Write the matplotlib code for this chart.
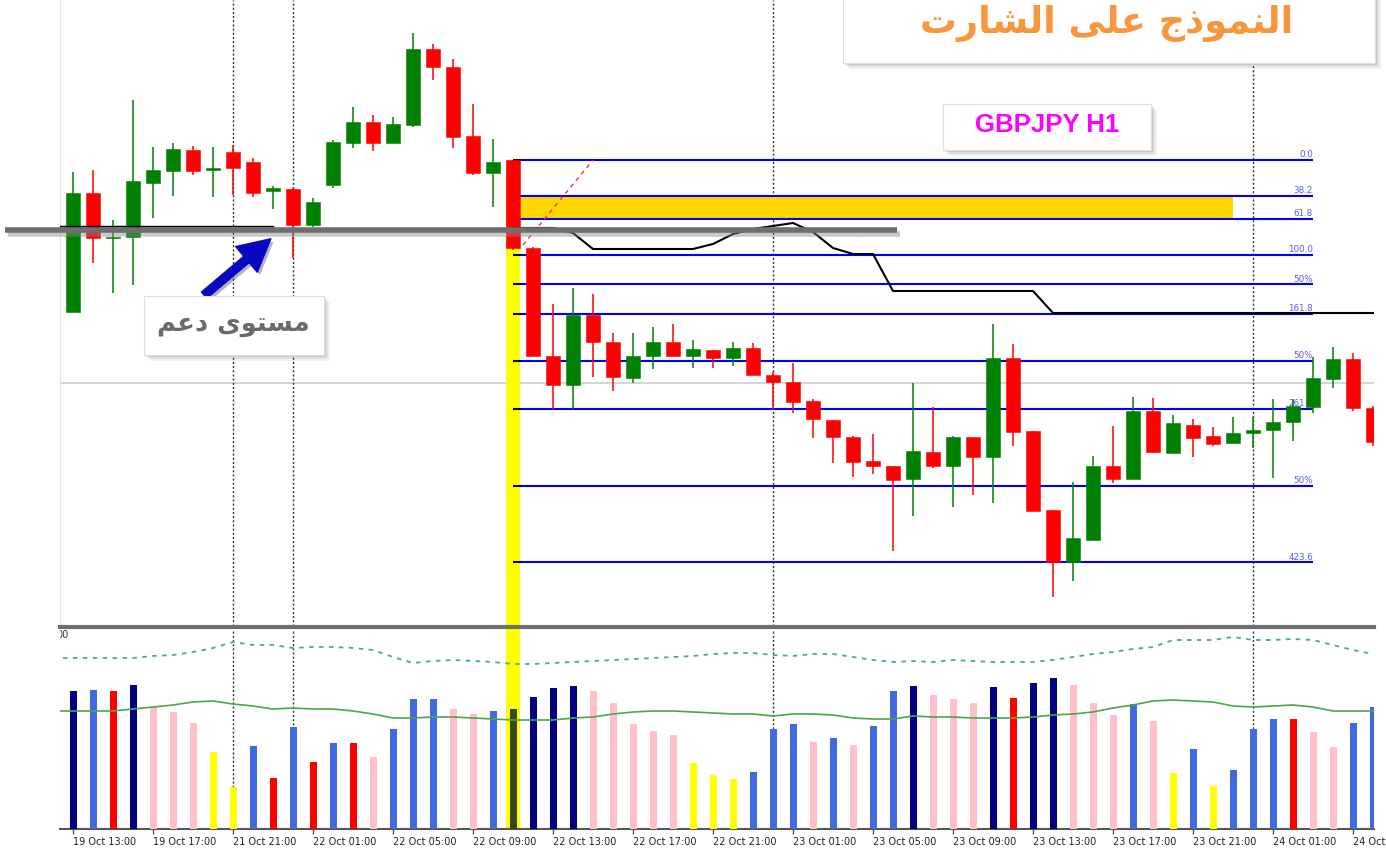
import matplotlib
matplotlib.use("Agg")
import matplotlib.pyplot as plt
import matplotlib.patheffects as pe
from matplotlib.patches import Rectangle
from matplotlib.lines import Line2D
import numpy as np

# ---- candles (H1) ----
opens = [146.940, 147.535, 147.310, 147.315, 147.585, 147.645, 147.750, 147.650, 147.740, 147.690,
         147.545, 147.555, 147.375, 147.575, 147.785, 147.890, 147.785, 147.875, 148.255, 148.165,
         147.820, 147.635, 147.700, 147.260, 146.720, 146.575, 146.925, 146.790, 146.610, 146.720,
         146.790, 146.720, 146.750, 146.710, 146.760, 146.625, 146.590, 146.495, 146.400, 146.315,
         146.195, 146.170, 146.105, 146.240, 146.170, 146.315, 146.215, 146.710, 146.345, 145.950,
         145.690, 145.800, 146.170, 146.105, 146.445, 146.235, 146.375, 146.320, 146.285, 146.335,
         146.350, 146.390, 146.465, 146.605, 146.705, 146.460]
highs = [147.640, 147.650, 147.400, 148.000, 147.765, 147.785, 147.770, 147.765, 147.775, 147.710,
         147.570, 147.560, 147.510, 147.800, 147.965, 147.925, 147.915, 148.335, 148.280, 148.205,
         147.980, 147.805, 147.700, 147.265, 146.980, 147.060, 147.030, 146.835, 146.835, 146.865,
         146.880, 146.800, 146.750, 146.790, 146.785, 146.640, 146.685, 146.505, 146.400, 146.320,
         146.330, 146.170, 146.585, 146.465, 146.320, 146.315, 146.880, 146.780, 146.345, 145.950,
         146.090, 146.220, 146.370, 146.515, 146.510, 146.425, 146.405, 146.365, 146.415, 146.415,
         146.505, 146.505, 146.715, 146.765, 146.735, 146.470]
lows = [146.940, 147.185, 147.035, 147.075, 147.410, 147.520, 147.625, 147.515, 147.525, 147.515,
        147.455, 147.210, 147.365, 147.560, 147.760, 147.745, 147.785, 147.865, 148.100, 147.760,
        147.625, 147.465, 147.250, 146.720, 146.455, 146.455, 146.615, 146.545, 146.585, 146.655,
        146.720, 146.660, 146.660, 146.670, 146.625, 146.450, 146.435, 146.310, 146.185, 146.115,
        146.130, 145.745, 145.920, 146.160, 145.965, 146.025, 145.985, 146.270, 145.945, 145.515,
        145.595, 145.800, 146.085, 146.105, 146.235, 146.235, 146.215, 146.270, 146.285, 146.260,
        146.110, 146.295, 146.435, 146.560, 146.445, 146.270]
closes = [147.535, 147.310, 147.315, 147.595, 147.650, 147.755, 147.645, 147.660, 147.660, 147.535,
          147.560, 147.375, 147.490, 147.790, 147.890, 147.785, 147.880, 148.255, 148.165, 147.815,
          147.635, 147.690, 147.260, 146.720, 146.575, 146.925, 146.790, 146.615, 146.720, 146.790,
          146.720, 146.755, 146.710, 146.760, 146.625, 146.590, 146.490, 146.405, 146.315, 146.190,
          146.170, 146.100, 146.245, 146.170, 146.315, 146.215, 146.710, 146.340, 145.945, 145.690,
          145.810, 146.170, 146.105, 146.445, 146.240, 146.385, 146.310, 146.280, 146.335, 146.350,
          146.390, 146.470, 146.610, 146.705, 146.460, 146.290]

# stepped indicator line, bars 22..65
kijun = [147.360, 147.360, 147.360, 147.335, 147.255, 147.255, 147.255, 147.255, 147.255, 147.255,
         147.280, 147.330, 147.355, 147.370, 147.385, 147.340, 147.260, 147.230, 147.230, 147.045,
         147.045, 147.045, 147.045, 147.045, 147.045, 147.045, 147.045, 146.935, 146.935, 146.935,
         146.935, 146.935, 146.935, 146.935, 146.935, 146.935, 146.935, 146.935, 146.935, 146.935,
         146.935, 146.935, 146.935, 146.935]
kijun_start = 22

# ---- volume panel ----
volumes = [2760, 2780, 2760, 2880, 2440, 2340, 2120, 1540, 840, 1660,
           1020, 2040, 1340, 1720, 1720, 1440, 2000, 2600, 2600, 2400,
           2300, 2360, 2400, 2640, 2820, 2860, 2760, 2520, 2100, 1960,
           1880, 1320, 1080, 1000, 1140, 2000, 2100, 1740, 1820, 1680,
           2060, 2760, 2860, 2680, 2600, 2520, 2840, 2620, 2920, 3020,
           2880, 2520, 2280, 2500, 2160, 1120, 1600, 860, 1180, 2000,
           2200, 2200, 1940, 1640, 2120, 2440]
vol_codes = "NBRNPPPYYBRBRBRPBBBPPBONNNPPPPPYYYBBBPBPBBNPPPNRNNPPPBPYBYBBBRPPBB"
vol_ma = [2360, 2360, 2360, 2360, 2400, 2440, 2480, 2540, 2560, 2500, 2460, 2400, 2420, 2400, 2400,
          2360, 2300, 2220, 2220, 2240, 2240, 2220, 2200, 2180, 2180, 2180, 2220, 2240, 2300, 2340,
          2360, 2360, 2340, 2320, 2300, 2300, 2260, 2300, 2300, 2280, 2220, 2200, 2200, 2260, 2240,
          2240, 2220, 2220, 2220, 2240, 2280, 2300, 2340, 2420, 2480, 2560, 2580, 2560, 2540, 2460,
          2440, 2460, 2480, 2440, 2360, 2360, 2360]          # bars -1..65
vol_band = [3420, 3420, 3420, 3420, 3420, 3460, 3480, 3540, 3620, 3740, 3680, 3680, 3620, 3640, 3640,
            3620, 3580, 3440, 3320, 3360, 3380, 3360, 3340, 3300, 3300, 3320, 3340, 3360, 3380, 3400,
            3420, 3440, 3460, 3500, 3520, 3520, 3480, 3460, 3500, 3500, 3440, 3380, 3340, 3360, 3340,
            3380, 3360, 3340, 3340, 3340, 3380, 3440, 3500, 3540, 3600, 3640, 3780, 3780, 3780, 3840,
            3780, 3780, 3800, 3780, 3680, 3580, 3500]      # bars -1..65

time_labels = ["19 Oct 13:00", "19 Oct 17:00", "21 Oct 21:00", "22 Oct 01:00", "22 Oct 05:00",
               "22 Oct 09:00", "22 Oct 13:00", "22 Oct 17:00", "22 Oct 21:00", "23 Oct 01:00",
               "23 Oct 05:00", "23 Oct 09:00", "23 Oct 13:00", "23 Oct 17:00", "23 Oct 21:00",
               "24 Oct 01:00", "24 Oct 05:00"]

# ---- fibonacci tool ----
fib_high = 147.700
fib_low = 147.225
fib_ratios = [0.0, 0.382, 0.618, 1.0, 1.309, 1.618, 2.118, 2.618, 3.427, 4.236]
fib_names = ["0.0", "38.2", "61.8", "100.0", "50%", "161.8", "50%", "261.8", "50%", "423.6"]
signal_bar = 22
fib_end_bar = 62
zone_end_bar = 58
trend_x = [22.5, 26.0]
trend_y = [147.275, 147.700]

marker_bars = [8, 11, 35, 59]
support_price = 147.35
support_span = [-3.4, 41.2]
shelf_price = 147.368
shelf_span = [-0.65, 10.0]
last_price = 146.585

title_ar = "\uFE95\uFEAD\uFE8E\uFEB8\uFEDF\uFE8D \uFEF0\uFEE0\uFECB \uFE9D\uFEAB\uFEEE\uFEE4\uFEE8\uFEDF\uFE8D"
support_ar = "\uFEE2\uFECB\uFEA9 \uFEEF\uFEEE\uFE98\uFEB4\uFEE3"
symbol = "GBPJPY H1"

vol_palette = {"N": "#000080", "B": "#4169e1", "R": "#ff0000", "P": "#ffc0cb",
               "Y": "#ffff00", "O": "#34490f"}

W, H = 1386, 851
fig = plt.figure(figsize=(W / 100, H / 100), dpi=100)
fig.patch.set_facecolor("white")


def frac(x0, y0, x1, y1):
    return [x0 / W, 1 - y1 / H, (x1 - x0) / W, (y1 - y0) / H]


def card(x0, y0, x1, y1):
    # white note with a soft drop shadow, like the pasted labels
    for off, a in ((6, 0.10), (4, 0.15), (2, 0.22)):
        fig.patches.append(Rectangle(((x0 + off) / W, 1 - (y1 + off) / H), (x1 - x0) / W, (y1 - y0) / H,
                                     transform=fig.transFigure, facecolor="#7a7a7a",
                                     edgecolor="none", alpha=a, zorder=20))
    fig.patches.append(Rectangle((x0 / W, 1 - y1 / H), (x1 - x0) / W, (y1 - y0) / H,
                                 transform=fig.transFigure, facecolor="white",
                                 edgecolor="#dedede", lw=0.8, zorder=21))


ax = fig.add_axes(frac(60, 0, 1374, 626))
axv = fig.add_axes(frac(60, 629, 1374, 829))
xlim = (-0.65, 65.05)
ax.set_xlim(*xlim)
ax.set_ylim(145.37, 148.5)
axv.set_xlim(*xlim)
axv.set_ylim(0, 4000)

# ---- main panel ----
o = np.array(opens); h = np.array(highs); l = np.array(lows); c = np.array(closes)
idx = np.arange(len(o))
col = np.where(c >= o, "#008000", "#ff0000")

ax.axhline(last_price, color="#d2d2d2", lw=1.3, zorder=1)
for b in marker_bars:
    ax.axvline(b, color="#333333", lw=1.0, ls=(0, (1.5, 1.5)), zorder=1.5)
    axv.axvline(b, color="#333333", lw=1.0, ls=(0, (1.5, 1.5)), zorder=1.5)

ylo = ax.get_ylim()[0]
ax.bar(signal_bar, fib_high - ylo, bottom=ylo, width=0.7, color="#ffff00", zorder=2)
axv.axvspan(signal_bar - 0.35, signal_bar + 0.35, color="#ffff00", lw=0, zorder=1)

levels = [fib_high - r * (fib_high - fib_low) for r in fib_ratios]
ax.fill_between([signal_bar + 0.4, zone_end_bar], levels[2], levels[1], color="#ffd700", lw=0, zorder=2.5)
ax.hlines(levels, signal_bar + 0.4, fib_end_bar, colors="#0000ff", lw=1.5, zorder=3)
ax.hlines(levels, signal_bar, signal_bar + 0.4, colors="black", lw=1.5, zorder=3)
for lev, name in zip(levels, fib_names):
    ax.text(fib_end_bar, lev + 0.004, name, ha="right", va="bottom", fontsize=6.3,
            color="#5a5aff", zorder=3)

ax.vlines(idx, l, h, colors=col, lw=1.1, zorder=4)
body = np.maximum(np.abs(c - o), 0.006)
ax.bar(idx, body, bottom=np.minimum(o, c), width=0.7, color=col, edgecolor=col, lw=0.4, zorder=4)

ax.plot(np.arange(kijun_start, kijun_start + len(kijun)), kijun, color="black", lw=1.5, zorder=5)
ax.plot(trend_x, trend_y, color="#ff3030", lw=1.0, ls=(0, (3, 3)), zorder=5)

ax.plot(support_span, [support_price] * 2, color="#6e6e6e", lw=4, solid_capstyle="butt",
        clip_on=False, zorder=6,
        path_effects=[pe.SimpleLineShadow(offset=(2, -3), shadow_color="#888888", alpha=0.45),
                      pe.Normal()])
ax.plot(shelf_span, [shelf_price] * 2, color="black", lw=1.0, zorder=6)

ax.annotate("", xy=(10.0, 147.315), xytext=(6.45, 147.015), zorder=8,
            arrowprops=dict(arrowstyle="simple,head_length=1.0,head_width=1.05,tail_width=0.26",
                            color="#0808c0", mutation_scale=23,
                            path_effects=[pe.withSimplePatchShadow(offset=(2, -2), alpha=0.3)]))

ax.set_xticks([]); ax.set_yticks([])
for s in ("top", "right", "bottom"):
    ax.spines[s].set_visible(False)
ax.spines["left"].set_color("#e4e4e4")

# ---- volume panel ----
axv.bar(idx, volumes, width=0.35, color=[vol_palette[k] for k in vol_codes], zorder=3)
xm = np.arange(-1, len(vol_ma) - 1)
axv.plot(xm, vol_ma, color="#4ca64c", lw=1.2, zorder=4)
axv.plot(xm, vol_band, color="#4aa6a6", lw=1.3, ls=(0, (2.5, 3)), zorder=4)
axv.text(-0.85, 3870, "00", fontsize=7, color="#333333", va="center", clip_on=True)

axv.set_yticks([])
axv.set_xticks(np.arange(0, 4 * len(time_labels), 4))
axv.set_xticklabels(time_labels, ha="left", fontsize=7, color="#222222")
axv.tick_params(axis="x", length=3.5, width=1, color="#555555", pad=2)
for s in ("top", "right", "left"):
    axv.spines[s].set_visible(False)
axv.spines["bottom"].set_color("#555555")
axv.spines["bottom"].set_linewidth(1.5)

fig.add_artist(Line2D([60 / W, 1374 / W], [1 - 627 / H] * 2, lw=3, color="#6f6f6f"))

# ---- pasted notes ----
card(843, -10, 1375, 63)
fig.text(1107 / W, 1 - 24 / H, title_ar, ha="center", va="center", fontsize=26.5,
         fontweight="bold", color="#f7963a", zorder=22)
card(943, 104, 1151, 150)
fig.text(1047 / W, 1 - 125 / H, symbol, ha="center", va="center", fontsize=18.5,
         fontweight="bold", family="Liberation Sans", color="#ff00ff", zorder=22)
card(144, 296, 324, 355)
fig.text(233 / W, 1 - 324 / H, support_ar, ha="center", va="center", fontsize=18.5,
         fontweight="bold", color="#6a6a6a", zorder=22)

fig.savefig("out.png", dpi=100)
